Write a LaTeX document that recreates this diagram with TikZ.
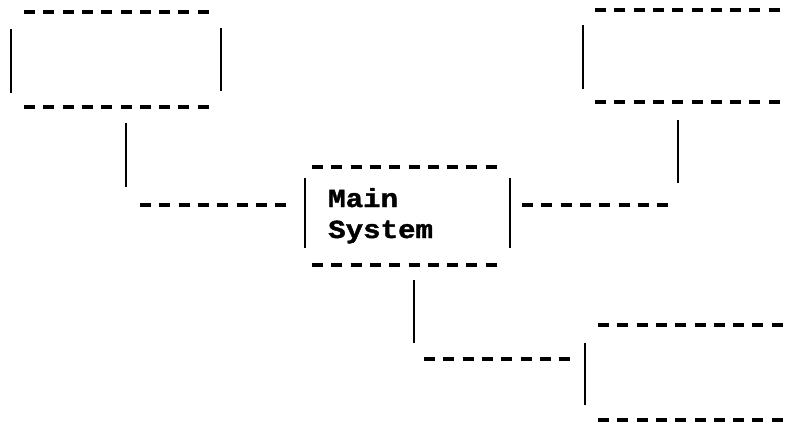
\documentclass[tikz,border=0pt]{standalone}
\usepackage{fontspec}
\newfontfamily\monofont[FakeStretch=1.12,FakeBold=1.5]{Liberation Mono}
\tikzset{
  dashline/.style={line width=3.2pt, dash pattern=on 11pt off 8.3pt},
  solidline/.style={line width=2.8pt},
  label/.style={font=\monofont\bfseries\fontsize{26}{31}\selectfont, inner sep=0pt, anchor=base west}
}
\begin{document}
\begin{tikzpicture}[x=1pt,y=-1pt]
\useasboundingbox (0,0) rectangle (788,424);
% top-left box
\coordinate (tlTa) at (24,12); \coordinate (tlTb) at (209,12);
\coordinate (tlBa) at (24,107); \coordinate (tlBb) at (209,107);
\coordinate (tlLa) at (11,29); \coordinate (tlLb) at (11,93);
\coordinate (tlRa) at (221,28); \coordinate (tlRb) at (221,91);
\draw[dashline] (tlTa) -- (tlTb);
\draw[dashline] (tlBa) -- (tlBb);
\draw[solidline] (tlLa) -- (tlLb);
\draw[solidline] (tlRa) -- (tlRb);
% top-left connector
\coordinate (c1a) at (126,123); \coordinate (c1b) at (126,187);
\coordinate (c1c) at (140,205); \coordinate (c1d) at (286,205);
\draw[solidline] (c1a) -- (c1b);
\draw[dashline] (c1c) -- (c1d);
% main box
\coordinate (mTa) at (312,167); \coordinate (mTb) at (497,167);
\coordinate (mBa) at (312,265); \coordinate (mBb) at (497,265);
\coordinate (mLa) at (305,178); \coordinate (mLb) at (305,248);
\coordinate (mRa) at (510,178); \coordinate (mRb) at (510,248);
\draw[dashline] (mTa) -- (mTb);
\draw[dashline] (mBa) -- (mBb);
\draw[solidline] (mLa) -- (mLb);
\draw[solidline] (mRa) -- (mRb);
\node[label] (main) at (328,207) {Main};
\node[label] (system) at (328,238) {System};
% right connector
\coordinate (c2a) at (522,205); \coordinate (c2b) at (668,205);
\coordinate (c2c) at (678,120); \coordinate (c2d) at (678,183);
\draw[dashline] (c2a) -- (c2b);
\draw[solidline] (c2c) -- (c2d);
% top-right box
\coordinate (trTa) at (595,10); \coordinate (trTb) at (788,10);
\coordinate (trBa) at (595,102); \coordinate (trBb) at (788,102);
\coordinate (trLa) at (583,25); \coordinate (trLb) at (583,89);
\draw[dashline] (trTa) -- (trTb);
\draw[dashline] (trBa) -- (trBb);
\draw[solidline] (trLa) -- (trLb);
% bottom connector
\coordinate (c3a) at (414,280); \coordinate (c3b) at (414,343);
\coordinate (c3c) at (424,359); \coordinate (c3d) at (570,359);
\draw[solidline] (c3a) -- (c3b);
\draw[dashline] (c3c) -- (c3d);
% bottom-right box
\coordinate (brTa) at (598,325); \coordinate (brTb) at (788,325);
\coordinate (brBa) at (598,420); \coordinate (brBb) at (788,420);
\coordinate (brLa) at (585,343); \coordinate (brLb) at (585,405);
\draw[dashline] (brTa) -- (brTb);
\draw[dashline] (brBa) -- (brBb);
\draw[solidline] (brLa) -- (brLb);
\end{tikzpicture}
\end{document}
